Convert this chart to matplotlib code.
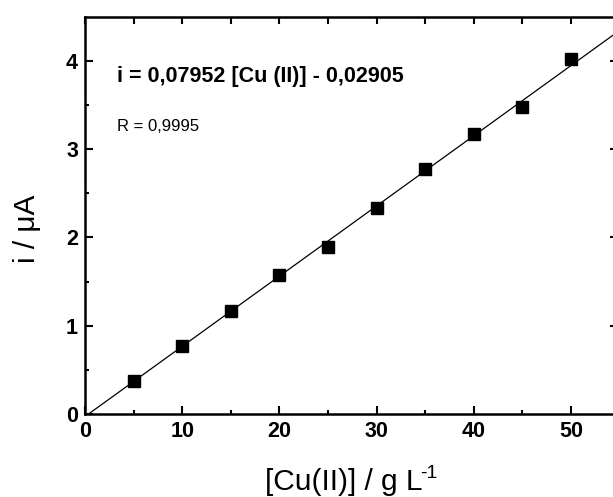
import numpy as np
import matplotlib
matplotlib.use('Agg')
import matplotlib.pyplot as plt

# Калибровка Cu(II)
conc = [5, 10, 15, 20, 25, 30, 35, 40, 45, 50]
current = [0.37, 0.77, 1.17, 1.58, 1.89, 2.33, 2.77, 3.17, 3.48, 4.02]
slope = 0.07952
intercept = -0.02905
fit_x = [0, 56]

eq_text = 'i = 0,07952 [Cu (II)] - 0,02905'
r_text = 'R = 0,9995'

plt.rcParams['font.family'] = ['Liberation Sans', 'DejaVu Sans']

W, H = 613, 497
fig = plt.figure(figsize=(W / 100, H / 100), dpi=100)
fig.patch.set_facecolor('white')

# оси: левый край 85px, правый ~617px (за краем картинки), верх 16.7px, низ 414px
left, right, top, bottom = 85, 617, 16.7, 414
ax = fig.add_axes([left / W, 1 - bottom / H, (right - left) / W, (bottom - top) / H])

ax.set_xlim(0, (right - left) / 9.72)
ax.set_ylim(0, 4.5)

fx = np.array(fit_x, dtype=float)
ax.plot(fx, slope * fx + intercept, color='black', linewidth=0.9, zorder=2)
ax.plot(conc, current, linestyle='none', marker='s', markersize=8,
        color='black', zorder=3)

ax.set_xticks([0, 10, 20, 30, 40, 50])
ax.set_xticks([5, 15, 25, 35, 45], minor=True)
ax.set_yticks([0, 1, 2, 3, 4])
ax.set_yticks([0.5, 1.5, 2.5, 3.5], minor=True)

for s in ax.spines.values():
    s.set_linewidth(1.8)

ax.tick_params(which='major', direction='in', length=6, width=1.5, pad=5,
               labelsize=15.5, top=False, right=False)
ax.tick_params(which='minor', direction='in', length=3, width=1.5,
               top=False, right=False)
for lab in ax.get_xticklabels() + ax.get_yticklabels():
    lab.set_fontweight('bold')

# верхняя и правая шкалы без подписей
sec_top = ax.secondary_xaxis('top')
sec_top.set_xticks(np.arange(0, 55, 5))
sec_top.tick_params(direction='in', length=5, width=1.5, labeltop=False)
sec_right = ax.secondary_yaxis('right')
sec_right.set_yticks([1, 2, 3, 4])
sec_right.tick_params(direction='in', length=5, width=1.5, labelright=False)

ax.text(3.26, 3.76, eq_text, fontsize=15.5, fontweight='bold',
        ha='left', va='baseline')
ax.text(3.26, 3.20, r_text, fontsize=12, ha='left', va='baseline')

fig.text(27 / W, 1 - 229 / H, 'i / μA', rotation=90, fontsize=21.5,
         ha='center', va='center')

# подпись оси X с верхним индексом "-1" (дефис, как в оригинале)
xl = fig.text(0, 1 - 490 / H, '[Cu(II)] / g L', fontsize=21.5,
              ha='left', va='baseline')
sup = fig.text(0, 1 - 478 / H, '-1', fontsize=14, ha='left', va='baseline')
renderer = fig.canvas.get_renderer()
w_main = xl.get_window_extent(renderer).width
w_sup = sup.get_window_extent(renderer).width
x0 = 352 - (w_main + w_sup) / 2
xl.set_x(x0 / W)
sup.set_x((x0 + w_main - 2) / W)

fig.savefig('out.png', dpi=100, facecolor='white')
